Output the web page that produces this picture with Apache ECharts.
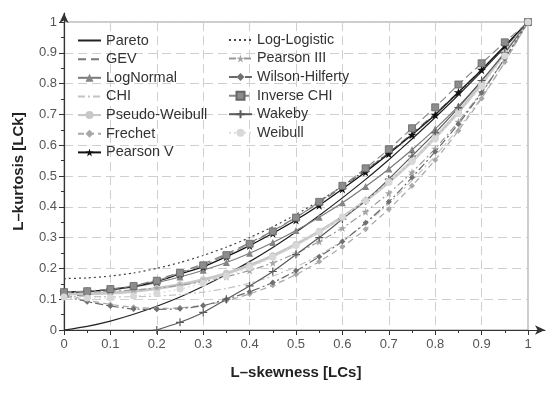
<!DOCTYPE html>
<html>
<head>
<meta charset="utf-8">
<script src="https://cdn.jsdelivr.net/npm/echarts@6/dist/echarts.min.js"></script>
<style>html,body{margin:0;padding:0;background:#fff}#c{width:550px;height:393px}</style>
</head>
<body>
<div id="c"></div>
<script>
// L-skewness positions (x)
var lcs = [0,0.05,0.1,0.15,0.2,0.25,0.3,0.35,0.4,0.45,0.5,0.55,0.6,0.65,0.7,0.75,0.8,0.85,0.9,0.95,1];
var tickLabels = ['0','0.1','0.2','0.3','0.4','0.5','0.6','0.7','0.8','0.9','1'];

// L-kurtosis per distribution
var pareto        = [0,0.012,0.029,0.051,0.077,0.107,0.142,0.180,0.222,0.268,0.318,0.372,0.429,0.489,0.553,0.620,0.690,0.763,0.839,0.918,1];
var gev           = [0.107,0.115,0.127,0.143,0.163,0.187,0.215,0.247,0.283,0.322,0.366,0.413,0.464,0.518,0.576,0.638,0.703,0.772,0.845,0.921,1];
var logNormal     = [0.123,0.125,0.131,0.140,0.154,0.172,0.194,0.219,0.249,0.284,0.323,0.366,0.413,0.466,0.523,0.585,0.653,0.727,0.808,0.898,1];
var chi           = [0.110,0.109,0.108,0.108,0.110,0.115,0.123,0.135,0.152,0.175,0.205,0.243,0.290,0.345,0.410,0.485,0.565,0.655,0.755,0.870,1];
var pseudoWeibull = [0.118,0.118,0.120,0.126,0.135,0.147,0.163,0.184,0.210,0.241,0.278,0.320,0.367,0.420,0.480,0.548,0.625,0.708,0.800,0.900,1];
var frechet       = [0.115,0.097,0.083,0.074,0.070,0.072,0.080,0.095,0.117,0.145,0.180,0.222,0.270,0.327,0.392,0.468,0.552,0.647,0.752,0.870,1];
var pearsonV      = [0.123,0.125,0.132,0.141,0.158,0.182,0.205,0.238,0.274,0.314,0.357,0.405,0.458,0.513,0.572,0.634,0.699,0.772,0.845,0.923,1];
var logLogistic   = [0.167,0.169,0.175,0.185,0.200,0.219,0.242,0.269,0.300,0.335,0.375,0.419,0.467,0.519,0.575,0.635,0.700,0.769,0.842,0.919,1];
var pearsonIII    = [0.122,0.123,0.126,0.130,0.136,0.145,0.157,0.173,0.193,0.218,0.249,0.287,0.331,0.384,0.444,0.512,0.589,0.676,0.773,0.881,1];
var wilsonHilferty= [0.110,0.092,0.078,0.068,0.067,0.069,0.079,0.100,0.124,0.154,0.192,0.238,0.287,0.348,0.416,0.495,0.579,0.669,0.770,0.882,1];
var inverseChi    = [0.123,0.126,0.133,0.143,0.160,0.185,0.210,0.243,0.280,0.320,0.365,0.416,0.468,0.525,0.587,0.655,0.723,0.797,0.866,0.934,1];
var wakeby        = [null,null,null,null,0,0.025,0.057,0.100,0.143,0.190,0.245,0.300,0.360,0.420,0.490,0.565,0.640,0.722,0.810,0.900,1];
var weibull       = [0.107,0.104,0.104,0.110,0.119,0.133,0.152,0.175,0.203,0.236,0.274,0.317,0.366,0.420,0.481,0.548,0.621,0.702,0.792,0.890,1];

var leftNames  = ['Pareto','GEV','LogNormal','CHI','Pseudo-Weibull','Frechet','Pearson V'];
var rightNames = ['Log-Logistic','Pearson III','Wilson-Hilferty','Inverse CHI','Wakeby','Weibull'];
var noMarker = {'Pareto':1,'GEV':1,'CHI':1,'Log-Logistic':1};

function pts(arr){ return lcs.map(function(x,i){ return [x, arr[i]]; }); }
var plus = 'path://M0,5L10,5M5,0L5,10';
var star = 'path://M50,0L61,35L98,35L68,57L79,91L50,70L21,91L32,57L2,35L39,35Z';

function S(name, arr, line, sym, symSize, itemStyle){
  return {
    name: name, type: 'line', data: pts(arr), smooth: 0.2,
    xAxisIndex: 0, yAxisIndex: 0, connectNulls: false,
    lineStyle: line, symbol: sym || 'none', symbolSize: symSize || 6,
    showSymbol: !!sym, itemStyle: itemStyle || {color: line.color},
    emphasis: {disabled: true}, animation: false, z: 3
  };
}

var font = 'Liberation Sans, Arial, sans-serif';
var series = [
  S('Pareto', pareto, {color:'#222', width:1.2, type:'solid'}),
  S('GEV', gev, {color:'#777', width:1.2, type:[8,5]}),
  S('LogNormal', logNormal, {color:'#7a7a7a', width:1.2}, 'triangle', 7, {color:'#858585'}),
  S('CHI', chi, {color:'#c4c4c4', width:1.2, type:[7,3,2,3]}),
  S('Pseudo-Weibull', pseudoWeibull, {color:'#c8c8c8', width:3}, 'circle', 7, {color:'#c8c8c8'}),
  S('Frechet', frechet, {color:'#a8a8a8', width:1.2, type:[6,4]}, 'diamond', 6, {color:'#a8a8a8'}),
  S('Pearson V', pearsonV, {color:'#111', width:1.3}, star, 9, {color:'#111'}),
  S('Log-Logistic', logLogistic, {color:'#444', width:1.2, type:[2,3]}),
  S('Pearson III', pearsonIII, {color:'#9a9a9a', width:1.2, type:[7,3,2,3]}, star, 8, {color:'#a5a5a5'}),
  S('Wilson-Hilferty', wilsonHilferty, {color:'#6a6a6a', width:1.2, type:[8,3,2,3]}, 'diamond', 6, {color:'#707070'}),
  S('Inverse CHI', inverseChi, {color:'#8a8a8a', width:1.2, type:[8,4]}, 'rect', 7, {color:'#8c8c8c', borderColor:'#666', borderWidth:0.8}),
  S('Wakeby', wakeby, {color:'#5a5a5a', width:1.2}, plus, 8, {color:'#5a5a5a', borderColor:'#5a5a5a', borderWidth:1.2}),
  S('Weibull', weibull, {color:'#dedede', width:1.2, type:[2,3]}, 'circle', 7, {color:'#d8d8d8'})
];

function legendData(names){
  return names.map(function(n){
    return noMarker[n] ? {name:n, itemStyle:{opacity:0}} : {name:n};
  });
}

var axisLabelStyle = {color:'#555', fontSize:13, fontFamily: font};
function legendCommon(left, names, fs, gap){
  return {
    orient:'vertical', top: 33, left: left, itemWidth: 23, itemHeight: 10, itemGap: gap,
    textStyle:{color:'#333', fontSize:fs, fontFamily: font, lineHeight: 14},
    selectedMode:false, backgroundColor:'transparent', padding:0,
    data: legendData(names)
  };
}

var chart = echarts.init(document.getElementById('c'), null, {renderer:'canvas'});
chart.setOption({
  animation:false,
  backgroundColor:'#fff',
  legend:[ legendCommon(77, leftNames, 14.5, 3.65), legendCommon(228, rightNames, 14.3, 4.55) ],
  grid:[
    {left:64, right:22, top:22, bottom:63, show:true, borderColor:'#9a9a9a', borderWidth:1, backgroundColor:'transparent'},
    {left:64, right:5, top:13, bottom:63, show:false}
  ],
  xAxis:[
    {type:'value', gridIndex:0, min:0, max:1, interval:0.1,
     name:'L\u2013skewness [LCs]', nameLocation:'middle', nameGap:35,
     nameTextStyle:{color:'#222', fontSize:15, fontWeight:'bold', fontFamily: font},
     axisLine:{show:false},
     axisTick:{show:true, inside:false, length:5, lineStyle:{color:'#333'}},
     minorTick:{show:true, splitNumber:2, length:3, lineStyle:{color:'#333'}},
     axisLabel:Object.assign({margin:8, formatter:function(v){ return tickLabels[Math.round(v*10)]; }}, axisLabelStyle),
     splitLine:{show:true, lineStyle:{color:'#cfcfcf', type:[9,5], width:1}}},
    {type:'value', gridIndex:1, min:0, max:1, axisLine:{show:true, symbol:['none','arrow'], symbolSize:[7,10], lineStyle:{color:'#333', width:1.2}},
     axisTick:{show:false}, axisLabel:{show:false}, splitLine:{show:false}}
  ],
  yAxis:[
    {type:'value', gridIndex:0, min:0, max:1, interval:0.1,
     name:'L\u2013kurtosis [LCk]', nameLocation:'middle', nameGap:38, nameRotate:90,
     nameTextStyle:{color:'#222', fontSize:15, fontWeight:'bold', fontFamily: font, padding:[0,0,0,9]},
     axisLine:{show:false},
     axisTick:{show:true, inside:false, length:5, lineStyle:{color:'#333'}},
     minorTick:{show:true, splitNumber:2, length:3, lineStyle:{color:'#333'}},
     axisLabel:Object.assign({margin:7, formatter:function(v){ return tickLabels[Math.round(v*10)]; }}, axisLabelStyle),
     splitLine:{show:true, lineStyle:{color:'#cfcfcf', type:[9,5], width:1}}},
    {type:'value', gridIndex:1, min:0, max:1, axisLine:{show:true, symbol:['none','arrow'], symbolSize:[7,10], lineStyle:{color:'#333', width:1.2}},
     axisTick:{show:false}, axisLabel:{show:false}, splitLine:{show:false}}
  ],
  series: series
});
</script>
</body>
</html>
